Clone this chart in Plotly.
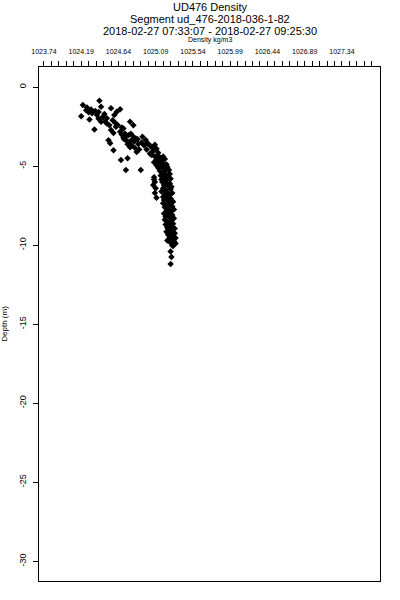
import plotly.graph_objects as go

# Density (kg/m3) and depth (m) samples
density = [
    1024.21, 1024.41, 1024.43, 1024.55, 1024.66, 1024.59, 1024.25, 1024.32, 1024.38, 1024.45,
    1024.36, 1024.28, 1024.19, 1024.29, 1024.46, 1024.43, 1024.50, 1024.53, 1024.61, 1024.35,
    1024.55, 1024.66, 1024.78, 1024.82, 1024.52, 1024.54, 1024.58, 1024.67, 1024.75, 1024.73,
    1024.91, 1024.99, 1025.05, 1025.18,
    1024.26, 1024.31, 1024.40, 1024.47, 1024.50, 1024.57, 1024.60, 1024.63, 1024.68, 1024.70,
    1024.72, 1024.58, 1024.48, 1024.40, 1024.62,
    1024.68, 1024.70, 1024.73, 1024.76, 1024.79, 1024.82, 1024.85, 1024.74, 1024.77, 1024.80,
    1024.83, 1024.87, 1024.71, 1024.88, 1024.80, 1024.84, 1024.89, 1024.86, 1024.92, 1024.95,
    1024.78, 1024.93, 1024.97, 1024.75,
    1025.00, 1025.03, 1025.08, 1025.10, 1024.98, 1025.06, 1025.12, 1025.02,
    1025.04, 1025.08, 1025.12, 1025.15, 1025.10, 1025.17, 1025.20, 1025.07, 1025.13, 1025.18,
    1025.22, 1025.10, 1025.16,
    1025.12, 1025.19, 1025.23, 1025.14, 1025.20, 1025.25, 1025.17, 1025.22, 1025.15, 1025.26,
    1025.19, 1025.24, 1025.16, 1025.21, 1025.27,
    1025.07, 1025.08, 1025.06, 1025.09, 1025.08, 1025.10, 1025.07,
    1025.17, 1025.22, 1025.26, 1025.19, 1025.24, 1025.28, 1025.18, 1025.21, 1025.27, 1025.16,
    1025.23, 1025.29, 1025.20, 1025.25, 1025.18,
    1025.22, 1025.27, 1025.19, 1025.24, 1025.30, 1025.18, 1025.21, 1025.26, 1025.29, 1025.20,
    1025.24, 1025.31, 1025.22, 1025.27,
    1025.19, 1025.24, 1025.29, 1025.21, 1025.26, 1025.31, 1025.20, 1025.23, 1025.28, 1025.25,
    1025.30, 1025.21, 1025.27, 1025.23, 1025.32,
    1025.25, 1025.29, 1025.22, 1025.27, 1025.32, 1025.24, 1025.30, 1025.26, 1025.33, 1025.28,
    1025.23, 1025.31, 1025.27, 1025.33, 1025.29,
    1025.30, 1025.27, 1025.28, 1025.27,
]
depth = [
    -1.14, -0.87, -1.24, -1.34, -1.40, -1.77, -1.46, -1.66, -1.77, -1.90,
    -1.52, -1.60, -1.84, -2.05, -1.89, -2.19, -2.30, -2.41, -2.51, -2.68,
    -2.72, -2.83, -2.19, -2.41, -3.36, -3.55, -3.99, -4.62, -4.51, -5.25,
    -5.25, -3.55, -3.86, -4.39,
    -1.30, -1.42, -1.58, -1.70, -1.98, -2.10, -2.25, -2.40, -2.55, -2.62,
    -2.95, -2.90, -2.20, -2.00, -1.56,
    -3.00, -3.20, -3.10, -3.05, -2.95, -3.15, -3.25, -3.40, -3.50, -3.35,
    -3.45, -3.30, -3.30, -3.60, -3.70, -3.85, -3.95, -4.10, -3.50, -3.70,
    -3.80, -3.15, -3.35, -3.62,
    -3.60, -3.75, -3.65, -3.90, -3.95, -4.05, -4.15, -4.20,
    -4.30, -4.40, -4.35, -4.50, -4.60, -4.65, -4.55, -4.75, -4.80, -4.85,
    -4.90, -4.95, -5.00,
    -5.10, -5.15, -5.05, -5.30, -5.35, -5.25, -5.45, -5.55, -5.60, -5.50,
    -5.70, -5.75, -5.85, -5.90, -5.80,
    -5.70, -6.00, -6.20, -6.40, -6.70, -7.00, -5.85,
    -6.00, -6.05, -6.10, -6.20, -6.25, -6.30, -6.40, -6.50, -6.45, -6.60,
    -6.65, -6.70, -6.80, -6.85, -6.95,
    -7.00, -7.05, -7.15, -7.20, -7.25, -7.35, -7.45, -7.40, -7.55, -7.60,
    -7.70, -7.75, -7.85, -7.90,
    -8.00, -8.05, -8.10, -8.20, -8.25, -8.30, -8.40, -8.50, -8.45, -8.60,
    -8.65, -8.70, -8.80, -8.90, -8.95,
    -9.00, -9.05, -9.15, -9.20, -9.25, -9.35, -9.40, -9.50, -9.55, -9.65,
    -9.70, -9.75, -9.85, -9.90, -10.00,
    -10.05, -10.40, -10.75, -11.20,
]

x_label_vals = [1023.74, 1024.19, 1024.64, 1025.09, 1025.54, 1025.99, 1026.44, 1026.89, 1027.34]
y_tick_vals = [0, -5, -10, -15, -20, -25, -30]
title_lines = ["UD476 Density", "Segment ud_476-2018-036-1-82",
               "2018-02-27 07:33:07 - 2018-02-27 09:25:30"]
x_title = "Density kg/m3"
y_title = "Depth (m)"

# top axis ticks: labelled every 5th of a 0.09 step
tickvals, ticktext = [], []
for i in range(45):
    v = round(1023.74 + 0.09 * i, 2)
    tickvals.append(v)
    ticktext.append(f"{v:.2f}" if v in x_label_vals else "")

FONT = "Liberation Sans, Arial, sans-serif"

fig = go.Figure(go.Scatter(
    x=density, y=depth, mode="markers",
    marker=dict(symbol="diamond", size=5, color="black", line=dict(width=0)),
    showlegend=False,
))

fig.update_layout(
    width=400, height=600,
    margin=dict(l=39, r=20, t=67, b=19),
    paper_bgcolor="white", plot_bgcolor="white",
    font=dict(family=FONT, color="black"),
    xaxis=dict(
        side="top", range=[1023.68, 1027.80], automargin=False,
        tickmode="array", tickvals=tickvals, ticktext=ticktext,
        ticks="outside", ticklen=5, tickwidth=1, tickcolor="black",
        tickfont=dict(size=7, family=FONT), ticklabelstandoff=4,
        showgrid=False, zeroline=False,
        showline=True, linecolor="black", linewidth=1, mirror=True,
    ),
    yaxis=dict(
        range=[-31.25, 1.27], automargin=False,
        tickmode="array", tickvals=y_tick_vals,
        ticktext=[str(v) for v in y_tick_vals],
        ticks="outside", ticklen=5, tickwidth=1, tickcolor="black",
        tickangle=-90, tickfont=dict(size=9, family=FONT), ticklabelstandoff=3,
        showgrid=False, zeroline=False,
        showline=True, linecolor="black", linewidth=1, mirror=True,
        title=dict(text=y_title, font=dict(size=8, family=FONT), standoff=10),
    ),
)

shifts = [60, 48, 36]
for txt, ys in zip(title_lines, shifts):
    fig.add_annotation(text=txt, xref="paper", yref="paper", x=0.5, y=1,
                       yshift=ys, yanchor="middle", showarrow=False,
                       font=dict(size=11, family=FONT))
fig.add_annotation(text=x_title, xref="paper", yref="paper", x=0.5, y=1,
                   yshift=27, yanchor="middle", showarrow=False,
                   font=dict(size=7, family=FONT))

# remove the browser's default 8px body margin so the figure sits at (0, 0)
fig.write_html("out.html", config={"displayModeBar": False},
               post_script="document.body.style.margin='0';")
